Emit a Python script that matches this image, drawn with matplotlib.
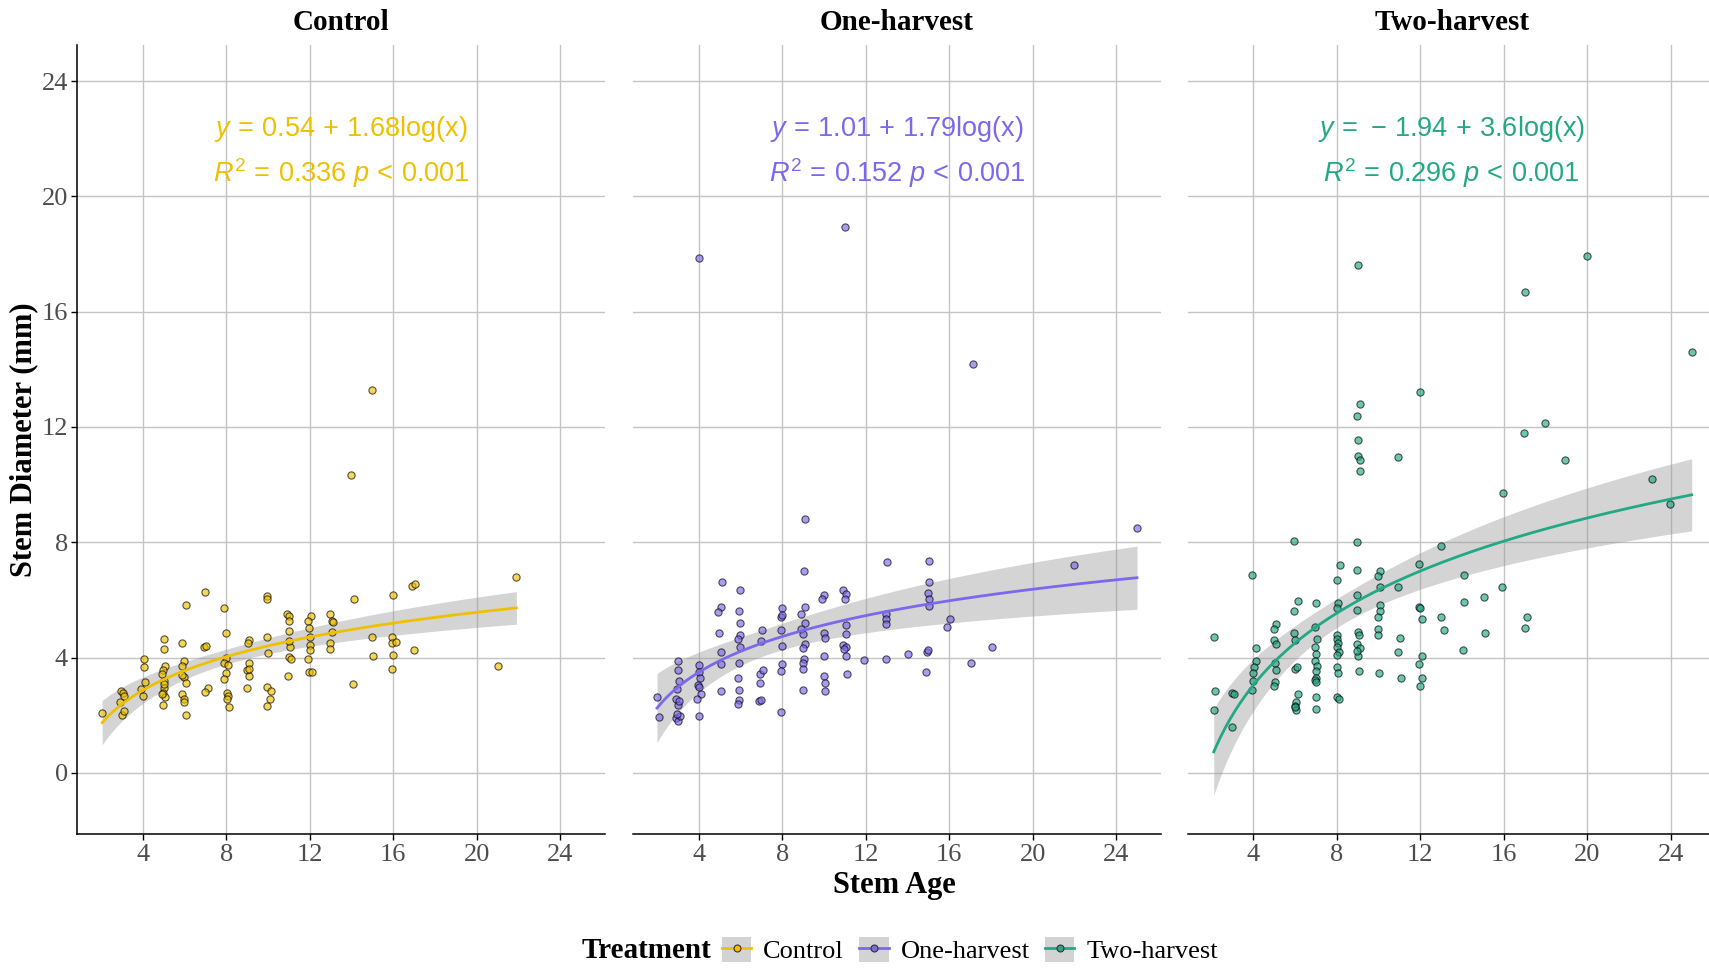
import numpy as np
import matplotlib
matplotlib.use("Agg")
import matplotlib.pyplot as plt
from matplotlib.patches import Rectangle
from matplotlib.lines import Line2D
from matplotlib.legend_handler import HandlerTuple

plt.rcParams['font.family'] = ['Liberation Serif', 'DejaVu Serif']
plt.rcParams['mathtext.fontset'] = 'custom'
plt.rcParams['mathtext.rm'] = 'Liberation Sans'
plt.rcParams['mathtext.it'] = 'Liberation Sans:italic'
plt.rcParams['mathtext.bf'] = 'Liberation Sans:bold'

# ---------------- data ----------------
treatments = ["Control", "One-harvest", "Two-harvest"]
colors = ["#EFC000", "#7B68EE", "#22A884"]
intercepts = [0.54, 1.01, -1.94]
slopes = [1.68, 1.79, 3.6]
eq_line1 = [r"$y\,=\,0.54\,+\,1.68\mathrm{log(x)}$",
            r"$y\,=\,1.01\,+\,1.79\mathrm{log(x)}$",
            r"$y\,=\,-\,1.94\,+\,3.6\mathrm{log(x)}$"]
eq_line2 = [r"$R^2\,=\,0.336\ p\,<\,0.001$",
            r"$R^2\,=\,0.152\ p\,<\,0.001$",
            r"$R^2\,=\,0.296\ p\,<\,0.001$"]

control_x = [2.05, 2.94, 3.03, 3.1, 2.9, 3.0, 3.1,
             4.05, 4.05, 4.1, 4.0, 3.9,
             5.0, 5.0, 5.05, 4.95, 4.9, 5.0, 5.0, 4.95, 5.05, 4.95, 5.0, 4.9,
             5.9, 6.05, 5.95, 5.9, 5.95, 6.05, 5.9, 5.95, 5.95, 6.05, 5.9,
             7.0, 6.95, 7.05, 7.1, 7.0,
             7.9, 8.0, 8.0, 7.9, 8.1, 8.0, 7.9, 8.05, 8.1, 8.05, 8.15,
             9.1, 9.05, 9.1, 9.0, 9.1, 9.0, 9.1,
             9.95, 9.95, 9.95, 10.0, 9.95, 10.15, 10.1, 9.95,
             10.9, 11.0, 11.0, 11.0, 11.05, 11.0, 11.0, 11.1, 10.95,
             12.05, 11.9, 11.95, 12.0, 12.0, 12.0, 11.9, 11.95, 12.1,
             12.95, 13.05, 13.1, 13.05, 12.95, 12.95,
             14.1, 14.05, 13.97,
             15.0, 15.05, 14.97,
             16.0, 15.95, 15.95, 16.15, 16.0, 15.95,
             16.9, 17.05, 17.0,
             21.0, 21.9]
control_y = [2.09, 2.83, 2.77, 2.66, 2.45, 2.0, 2.14,
             3.96, 3.67, 3.17, 2.66, 2.9,
             4.65, 4.3, 3.7, 3.57, 3.42, 3.19, 2.96, 2.79, 2.62, 2.34, 3.08, 2.74,
             4.5, 5.84, 3.9, 3.7, 3.33, 3.11, 2.74, 2.57, 2.45, 2.0, 3.4,
             6.27, 4.36, 4.39, 2.93, 2.82,
             5.72, 4.85, 3.99, 3.8, 3.73, 3.48, 3.27, 2.79, 2.68, 2.57, 2.28,
             4.6, 4.5, 3.8, 3.57, 3.36, 2.93, 3.59,
             6.13, 6.04, 4.73, 4.16, 2.99, 2.83, 2.57, 2.33,
             5.52, 5.45, 5.28, 4.94, 4.36, 4.56, 4.01, 3.96, 3.36,
             5.45, 5.28, 5.04, 4.73, 4.45, 4.28, 3.96, 3.51, 3.51,
             5.53, 5.28, 5.25, 4.9, 4.5, 4.3,
             6.02, 3.08, 10.34,
             4.7, 4.05, 13.28,
             6.18, 4.7, 4.5, 4.54, 4.1, 3.6,
             6.47, 6.56, 4.25,
             3.7, 6.8]

one_x = [2.0, 2.1,
         3.0, 3.0, 3.05, 2.95, 2.9, 3.0, 3.05, 2.9, 3.0, 3.1, 2.95,
         4.0, 4.0, 4.05, 3.95, 4.0, 4.1, 3.9, 4.0, 4.0,
         5.1, 5.05, 4.9, 4.95, 5.05, 5.05, 5.05,
         6.0, 5.95, 6.0, 6.0, 5.9, 6.0, 5.95, 5.9, 5.95, 5.95, 5.9,
         7.05, 7.0, 6.95, 7.1, 6.95, 6.9, 7.0,
         8.0, 7.95, 8.0, 7.95, 8.0, 8.0, 7.95, 7.95,
         9.1, 9.05, 9.1, 8.9, 9.1, 8.9, 9.0, 9.1, 9.0, 9.05, 9.0, 9.0, 9.0,
         10.0, 9.9, 10.0, 10.05, 10.0, 10.0, 10.05, 10.05,
         10.9, 11.05, 11.0, 11.05, 11.05, 10.9, 11.05, 10.95, 11.05, 11.1, 11.0,
         11.9,
         13.0, 12.95, 12.95, 12.95, 12.95,
         14.05,
         15.05, 15.05, 15.0, 15.05, 15.05, 14.95, 15.0, 14.9,
         16.05, 15.9,
         17.03, 17.16,
         18.07, 21.99, 25.0]
one_y = [2.62, 1.93,
         3.87, 3.57, 3.18, 2.91, 2.57, 2.37, 2.51, 1.91, 1.80, 1.96, 2.05,
         3.74, 3.51, 3.28, 3.05, 2.97, 2.74, 2.57, 1.98, 17.85,
         6.62, 5.75, 5.58, 4.87, 4.21, 3.77, 2.83,
         6.36, 5.62, 5.21, 4.78, 4.64, 4.38, 3.83, 3.28, 2.88, 2.54, 2.39,
         4.96, 4.58, 3.43, 3.57, 3.12, 2.51, 2.54,
         5.71, 5.41, 5.47, 4.96, 4.41, 3.77, 3.52, 2.13,
         8.8, 7.0, 5.75, 5.5, 5.21, 4.98, 4.81, 4.46, 4.32, 3.97, 3.83, 3.62, 2.88,
         6.17, 6.05, 4.87, 4.67, 4.06, 3.37, 3.12, 2.83,
         6.36, 6.21, 6.05, 5.12, 4.81, 4.43, 4.37, 4.29, 4.06, 3.42, 18.94,
         3.91,
         7.31, 5.52, 5.35, 5.16, 3.97,
         4.12,
         7.36, 6.62, 6.25, 6.04, 5.79, 4.21, 4.26, 3.49,
         5.33, 5.06,
         3.83, 14.19,
         4.37, 7.2, 8.49]

two_x = [2.1, 2.15, 2.1, 2.98, 3.05, 2.98,
         3.95, 4.1, 4.1, 4.05, 4.0, 4.0, 3.95,
         5.1, 5.0, 5.0, 5.1, 5.03, 5.06, 5.03, 5.0,
         5.95, 5.95, 6.15, 5.95, 6.0, 6.0, 6.1, 6.15, 6.05, 6.0, 6.05, 6.0,
         7.0, 6.97, 7.06, 6.94, 7.0, 6.94, 7.03, 7.0, 7.0, 6.94, 7.02, 7.0, 7.0,
         8.13, 8.0, 8.06, 8.0, 8.0, 8.0, 8.06, 8.0, 8.11, 8.0, 8.0, 8.05, 8.0, 8.1,
         8.97, 8.97, 8.97, 8.97, 9.03, 9.06, 8.97, 9.11, 9.03, 8.97, 9.06,
         9.03, 9.1, 8.97, 9.03, 9.03, 9.1, 9.1,
         10.06, 9.95, 10.06, 10.06, 10.06, 9.95, 9.95, 9.95, 10.0,
         10.95, 11.03, 10.95, 11.08, 10.95,
         11.94, 11.95, 12.0, 12.06, 12.06, 11.94, 12.06, 12.0, 11.98,
         12.98, 12.97, 13.11,
         14.1, 14.1, 14.02,
         15.05, 15.1,
         15.97, 15.92,
         17.1, 17.03, 17.02, 16.95,
         17.98, 18.95, 19.98,
         23.08, 23.97, 25.0]
two_y = [4.72, 2.83, 2.19, 2.77, 2.74, 1.59,
         6.86, 4.33, 3.87, 3.66, 3.45, 3.18, 2.89,
         5.18, 4.98, 4.61, 4.46, 3.83, 3.57, 3.14, 3.03,
         8.06, 5.62, 5.96, 4.87, 4.6, 3.62, 3.66, 2.73, 2.45, 2.31, 2.19, 2.28,
         5.9, 5.07, 4.63, 4.37, 4.12, 3.87, 3.72, 3.52, 3.31, 3.23, 3.16, 2.62, 2.22,
         7.2, 6.71, 5.9, 5.73, 4.79, 4.64, 4.5, 4.37, 4.18, 4.1, 3.69, 3.45, 2.62, 2.57,
         8.0, 7.05, 6.16, 5.66, 4.9, 4.79, 4.46, 4.33, 4.06, 4.23, 3.52,
         17.63, 12.8, 12.39, 11.55, 11.0, 10.85, 10.46,
         7.02, 6.82, 6.44, 5.81, 5.62, 5.41, 4.98, 4.78, 3.48,
         6.46, 4.67, 4.21, 3.28, 10.95,
         7.25, 5.75, 5.73, 5.33, 4.07, 3.77, 3.31, 3.03, 13.2,
         7.86, 5.42, 4.96,
         6.86, 5.93, 4.27,
         6.11, 4.87,
         9.71, 6.44,
         5.41, 5.02, 16.68, 11.8,
         12.15, 10.85, 17.93,
         10.2, 9.34, 14.59]

xs_all = [control_x, one_x, two_x]
ys_all = [control_y, one_y, two_y]

x_ticks = [4, 8, 12, 16, 20, 24]
y_ticks = [0, 4, 8, 12, 16, 20, 24]

# ---------------- figure ----------------
W, H = 1709, 968
fig = plt.figure(figsize=(W / 100, H / 100), dpi=100)

ax_w = 528 / W
ax_b = 1 - 833.5 / H
ax_h = (833.5 - 45.0) / H
lefts = [77.1 / W, 633.0 / W, 1187.7 / W]

tick_color = "#4d4d4d"
grid_color = "#c4c4c4"

for i, (tr, col) in enumerate(zip(treatments, colors)):
    ax = fig.add_axes([lefts[i], ax_b, ax_w, ax_h])
    ax.set_xlim(0.85, 26.15)
    ax.set_ylim(-2.1, 25.25)
    ax.set_xticks(x_ticks)
    ax.set_yticks(y_ticks)
    ax.grid(True, color=grid_color, linewidth=1.0, zorder=0)
    ax.set_axisbelow(True)
    for s in ["top", "right"]:
        ax.spines[s].set_visible(False)
    ax.spines["bottom"].set_color("black")
    ax.spines["bottom"].set_linewidth(1.1)
    if i == 0:
        ax.spines["left"].set_color("black")
        ax.spines["left"].set_linewidth(1.1)
        ax.tick_params(axis="y", length=4.5, width=1.0, color="black",
                       labelsize=19, labelcolor=tick_color, pad=2)
    else:
        ax.spines["left"].set_visible(False)
        ax.tick_params(axis="y", length=0, labelleft=False)
    ax.tick_params(axis="x", length=4.5, width=1.0, color="black",
                   labelsize=19, labelcolor=tick_color, pad=3)

    x = np.array(xs_all[i], dtype=float)
    y = np.array(ys_all[i], dtype=float)
    a, b = intercepts[i], slopes[i]

    # confidence band from data around the reported log fit
    lx = np.log(x)
    n = len(x)
    resid = y - (a + b * lx)
    s = np.sqrt(np.sum(resid ** 2) / (n - 2))
    sxx = np.sum((lx - lx.mean()) ** 2)
    xg = np.linspace(x.min(), x.max(), 200)
    lg = np.log(xg)
    fit = a + b * lg
    se = s * np.sqrt(1.0 / n + (lg - lx.mean()) ** 2 / sxx)
    tval = 1.98
    ax.fill_between(xg, fit - tval * se, fit + tval * se, color="#999999",
                    alpha=0.42, linewidth=0, zorder=2)
    ax.scatter(x, y, s=27, facecolors=col, edgecolors="black",
               linewidths=0.8, alpha=0.65, zorder=3)
    ax.plot(xg, fit, color=col, linewidth=2.0, zorder=4)

    ax.text(13.5, 22.35, eq_line1[i], color=col, fontsize=19.5,
            ha="center", va="center", zorder=5)
    ax.text(13.5, 20.8, eq_line2[i], color=col, fontsize=19.5,
            ha="center", va="center", zorder=5)

    fig.text(lefts[i] + (13.5 - 0.85) / 25.3 * ax_w, 1 - 22 / H, tr,
             fontsize=21, fontweight="bold", ha="center", va="center")

fig.text(24 / W, 1 - 440 / H, "Stem Diameter (mm)", rotation=90,
         fontsize=22, fontweight="bold", ha="center", va="center")
fig.text(894 / W, 1 - 885 / H, "Stem Age", fontsize=22,
         fontweight="bold", ha="center", va="center")

# legend
fig.text(711 / W, 1 - 950 / H, "Treatment", fontsize=21, fontweight="bold",
         ha="right", va="center")
handles = []
for col in colors:
    rect = Rectangle((0, 0), 1, 1, facecolor="#d3d3d3", edgecolor="none")
    ln = Line2D([0], [0], color=col, linewidth=2.0, marker="o",
                markersize=5, markerfacecolor=col, markeredgecolor="#333333",
                markeredgewidth=0.8)
    handles.append((rect, ln))
leg = fig.legend(handles, treatments, loc="center left",
                 bbox_to_anchor=(722 / W, 1 - 950 / H), ncol=3, frameon=False,
                 fontsize=19, handlelength=1.1, handleheight=1.1,
                 handletextpad=0.45, columnspacing=0.6, borderpad=0,
                 borderaxespad=0,
                 handler_map={tuple: HandlerTuple(ndivide=1, pad=0)})

fig.savefig("out.png", dpi=100)
